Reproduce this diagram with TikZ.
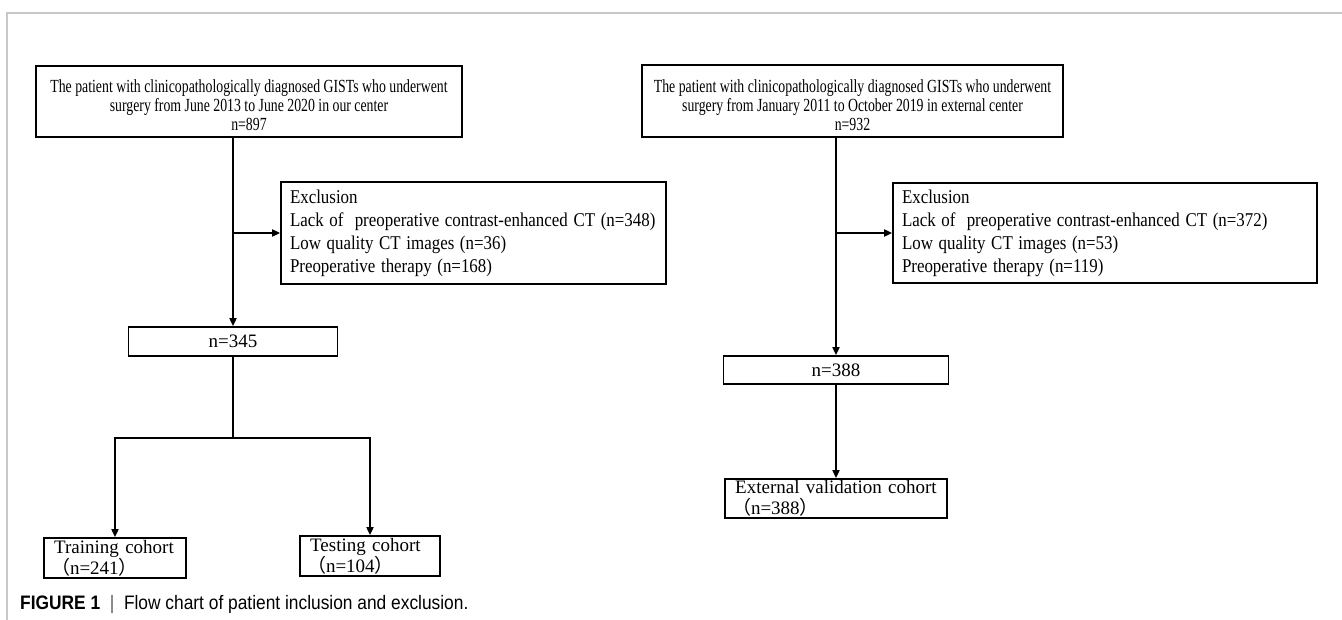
\documentclass[tikz,border=0pt]{standalone}
\usepackage{fontspec}
\usepackage{graphicx}
\setmainfont{Liberation Serif}
\newfontfamily\ser{Liberation Serif}
\newfontfamily\capfont{Liberation Sans}
\newfontfamily\cjk{Noto Sans CJK SC}
\usetikzlibrary{arrows.meta}
\definecolor{framegray}{RGB}{200,200,200}
\definecolor{capgray}{RGB}{90,90,90}
\newcommand\sx[2]{\scalebox{#1}[1]{#2}}
\tikzset{
  box/.style={draw=black, line width=1.7pt, inner sep=0pt, anchor=center},
  conn/.style={draw=black, line width=1.7pt},
  arr/.style={conn, -{Triangle[length=8pt,width=7pt]}},
  toptext/.style={font=\ser\fontsize{18.5}{19}\selectfont, align=center},
  exctext/.style={font=\ser\fontsize{19.5}{23}\selectfont, align=left},
  midtext/.style={font=\ser\fontsize{19}{21}\selectfont, align=center},
  bottext/.style={font=\ser\fontsize{19}{21}\selectfont, align=left},
}
\begin{document}
\begin{tikzpicture}[x=1pt,y=-1pt]
\useasboundingbox (0,0) rectangle (1342,620);
\draw[framegray, line width=1.5pt] (7,620) -- (7,13) -- (1342,13);

% top boxes
\node[box, toptext, minimum width=426pt, minimum height=71pt] (L1) at (249,101.5)
  {\rule{0pt}{21pt}\sx{0.746}{The patient with clinicopathologically diagnosed GISTs who underwent}\\
   \sx{0.746}{surgery from June 2013 to June 2020 in our center}\\
   \sx{0.746}{n=897}};
\node[box, toptext, minimum width=421pt, minimum height=72pt] (R1) at (852.5,101)
  {\rule{0pt}{21pt}\sx{0.746}{The patient with clinicopathologically diagnosed GISTs who underwent}\\
   \sx{0.746}{surgery from January 2011 to October 2019 in external center}\\
   \sx{0.746}{n=932}};

% exclusion boxes
\node[box, exctext, text width=367pt, inner xsep=9pt, minimum height=102pt] (ExL) at (473.5,233)
  {\sx{0.867}{Exclusion}\\
   \sx{0.867}{Lack of\ \ preoperative contrast-enhanced CT (n=348)}\\
   \sx{0.867}{Low quality CT images\ (n=36)}\\
   \sx{0.867}{Preoperative therapy (n=168)}};
\node[box, exctext, text width=406pt, inner xsep=9pt, minimum height=100pt] (ExR) at (1105,233)
  {\sx{0.867}{Exclusion}\\
   \sx{0.867}{Lack of\ \ preoperative contrast-enhanced CT (n=372)}\\
   \sx{0.867}{Low quality CT images\ (n=53)}\\
   \sx{0.867}{Preoperative therapy (n=119)}};

% middle boxes
\node[box, midtext, minimum width=209pt, minimum height=29pt] (N345) at (233,341.5) {n=345};
\node[box, midtext, minimum width=225pt, minimum height=28pt] (N388) at (836,370) {n=388};

% bottom boxes
\node[box, bottext, text width=128pt, inner xsep=7pt, minimum height=40pt] (Train) at (115,558)
  {\,Training cohort\\{\cjk （}n=241{\cjk ）}};
\node[box, bottext, text width=126pt, inner xsep=7pt, minimum height=40pt] (Test) at (370,556)
  {\,Testing cohort\\{\cjk （}n=104{\cjk ）}};
\node[box, bottext, text width=208pt, inner xsep=7pt, minimum height=39pt] (ExtV) at (836,498.5)
  {\,External validation cohort\\{\cjk （}n=388{\cjk ）}};

% connectors left
\draw[arr] (L1.south -| N345.north) -- (N345.north);
\draw[arr] (N345.north |- ExL.west) -- (ExL.west);
\coordinate (split) at (233,438);
\draw[conn] (N345.south) -- (split);
\draw[arr] (split) -| (Train.north);
\draw[arr] (split) -| (Test.north);

% connectors right
\draw[arr] (R1.south -| N388.north) -- (N388.north);
\draw[arr] (N388.north |- ExR.west) -- (ExR.west);
\draw[arr] (N388.south) -- (ExtV.north);

% caption
\node[anchor=base west, inner sep=0pt, font=\capfont\fontsize{19.5}{22}\selectfont] (caption) at (20,609)
  {\sx{0.89}{\textbf{FIGURE 1}\ \ {\color{capgray}|}\ \ Flow chart of patient inclusion and exclusion.}};
\end{tikzpicture}
\end{document}
